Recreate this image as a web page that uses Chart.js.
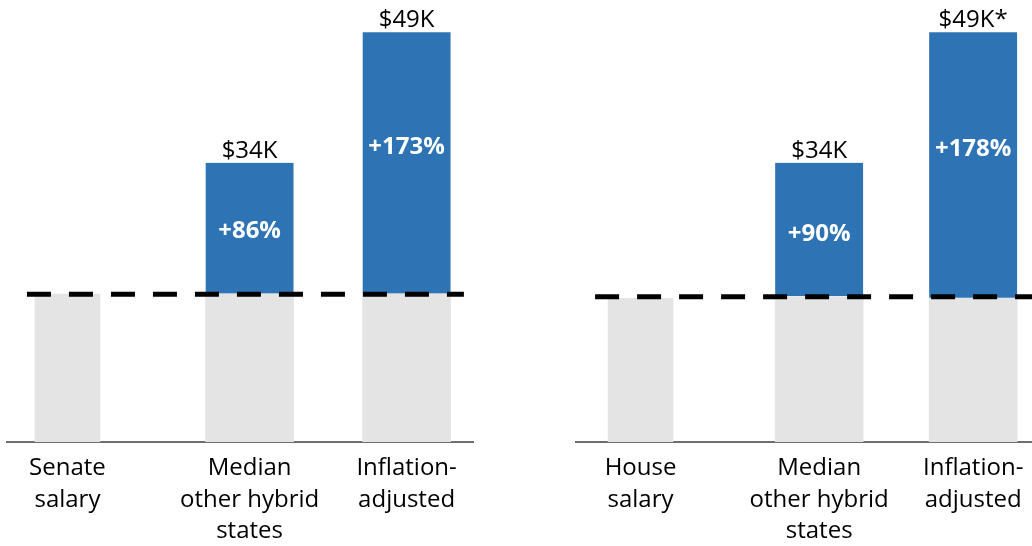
<!DOCTYPE html>
<html><head><meta charset="utf-8">
<script src="https://cdn.jsdelivr.net/npm/chart.js@4"></script>
<style>
html,body{margin:0;padding:0;background:#fff;width:1032px;height:546px;overflow:hidden;position:relative;}
#w1{position:absolute;left:0;top:0;width:480px;height:546px;}
#w2{position:absolute;left:560px;top:0;width:480px;height:546px;}
</style></head><body>
<div id="w1"><canvas id="c1"></canvas></div>
<div id="w2"><canvas id="c2"></canvas></div>
<script>
// ---- data (thousands of dollars) ----
const senateCategories = [["Senate","salary"],["Median","other hybrid","states"],["Inflation-","adjusted"]];
const houseCategories  = [["House","salary"],["Median","other hybrid","states"],["Inflation-","adjusted"]];
const slotPositions = [0, 1.16, 2.16];
const senateBase  = [18.0, 18.0, 18.0];
const senateTotal = [18.0, 34.0, 49.9];
const senateTotalLabels = [null, "$34K", "$49K"];
const senateIncreaseLabels = [null, "+86%", "+173%"];
const senateSalaryLine = 18.0;
const houseBase  = [17.5, 17.7, 17.5];
const houseTotal = [17.5, 34.0, 49.9];
const houseTotalLabels = [null, "$34K", "$49K*"];
const houseIncreaseLabels = [null, "+90%", "+178%"];
const houseSalaryLine = 17.7;

const GREY = '#e4e4e4', BLUE = '#2e74b5';
const FONT = '"Open Sans", "Noto Sans", sans-serif';

function makeChart(id, cats, base, total, totalLabels, incLabels, lineVal, cfg) {
  const pts = (arr, idx) => idx.map(i => ({x: slotPositions[i], y: arr[i]}));
  const diff = total.map((t, i) => t - base[i]);
  const labelPlugin = {
    id: 'barLabels',
    afterDatasetsDraw(chart) {
      const ctx = chart.ctx;
      const meta = chart.getDatasetMeta(2);
      meta.data.forEach((bar, k) => {
        const i = k + 1;
        ctx.save();
        ctx.textAlign = 'center';
        ctx.fillStyle = '#000';
        ctx.font = '24px ' + FONT;
        ctx.textBaseline = 'alphabetic';
        ctx.fillText(totalLabels[i], bar.x, bar.y - 5);
        ctx.fillStyle = '#fff';
        ctx.font = 'bold 24px ' + FONT;
        ctx.textBaseline = 'middle';
        ctx.fillText(incLabels[i], bar.x, bar.y + cfg.incFrac[k] * (bar.base - bar.y));
        ctx.restore();
      });
    }
  };
  return new Chart(document.getElementById(id), {
    type: 'bar',
    data: {
      datasets: [
        {data: pts(base, [0]), backgroundColor: GREY, barThickness: 65, order: 1, stack: 's'},
        {data: pts(base, [1, 2]), backgroundColor: GREY, barThickness: 88, order: 1, stack: 's'},
        {data: pts(diff, [1, 2]), backgroundColor: BLUE, barThickness: 88, order: 1, stack: 's',
         borderColor: '#fff', borderWidth: {bottom: 1, top: 0, left: 0, right: 0}, borderSkipped: false},
        {type: 'line', data: [{x: cfg.lineFrom, y: lineVal}, {x: cfg.lineTo, y: lineVal}],
         borderColor: '#000', borderWidth: 5, borderDash: [24, 18], pointRadius: 0, order: 0, stack: 'line'}
      ]
    },
    options: {
      responsive: true, maintainAspectRatio: false, animation: false,
      layout: {padding: cfg.padding},
      plugins: {legend: {display: false}, tooltip: {enabled: false}},
      scales: {
        x: {
          type: 'linear', min: cfg.xMin, max: cfg.xMax, stacked: true, offset: false,
          grid: {display: false, drawTicks: false, offset: false},
          border: {display: true, color: '#6e6e6e', width: 2},
          afterBuildTicks: s => { s.ticks = slotPositions.map(v => ({value: v})); },
          afterFit: s => { s.height = 104; },
          ticks: {autoSkip: false, maxRotation: 0, minRotation: 0, padding: 11, color: '#000',
                  font: {family: FONT, size: 24, lineHeight: 1.3},
                  callback: (v, i) => cats[i]}
        },
        y: {display: false, stacked: true, min: 0, max: 52}
      }
    },
    plugins: [labelPlugin]
  });
}

makeChart('c1', senateCategories, senateBase, senateTotal, senateTotalLabels, senateIncreaseLabels, senateSalaryLine,
  {xMin: -0.385, xMax: 2.583, lineFrom: -0.258, lineTo: 2.525, padding: {top: 15, left: 7, right: 7, bottom: 0}, incFrac: [0.52, 0.44]});
makeChart('c2', houseCategories, houseBase, houseTotal, houseTotalLabels, houseIncreaseLabels, houseSalaryLine,
  {xMin: -0.419, xMax: 2.594, lineFrom: -0.295, lineTo: 2.6, padding: {top: 15, left: 16, right: 0, bottom: 0}, incFrac: [0.53, 0.44]});
</script>
</body></html>
